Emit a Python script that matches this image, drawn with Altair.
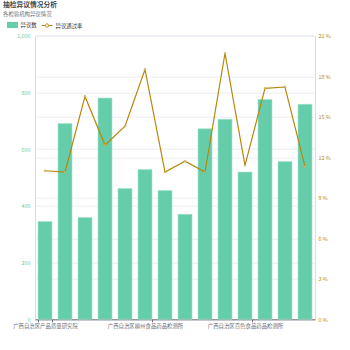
import altair as alt
import pandas as pd

cats = [
    "广西自治区产品质量研究院",
    "广西自治区南宁食品药品检测所",
    "广西自治区桂林食品药品检测所",
    "广西自治区梧州食品药品检测所",
    "广西自治区北海食品药品检测所",
    "广西自治区柳州食品药品检测所",
    "广西自治区防城港食品药品检测所",
    "广西自治区钦州食品药品检测所",
    "广西自治区贵港食品药品检测所",
    "广西自治区玉林食品药品检测所",
    "广西自治区百色食品药品检测所",
    "广西自治区贺州食品药品检测所",
    "广西自治区河池食品药品检测所",
    "广西自治区来宾食品药品检测所",
]
counts = [345, 690, 359, 780, 461, 528, 454, 370, 672, 705, 519, 775, 556, 758]
rates = [11.0, 10.9, 16.5, 12.9, 14.3, 18.5, 10.9, 11.7, 10.9, 19.7, 11.4, 17.1, 17.2, 11.3]
left_ticks = [0, 200, 400, 600, 800, 1000]
right_ticks = [0, 3, 6, 9, 12, 15, 18, 21]
shown_labels = [cats[0], cats[5], cats[10]]

bar_name = "异议数"
line_name = "异议通过率"
FONT = "Noto Sans CJK SC"
GREEN = "#66cdaa"
GOLD = "#b8860b"
GRID = "#eceef6"

df = pd.DataFrame({"cat": cats, "count": counts, "rate": rates,
                   "s1": [bar_name] * len(cats), "s2": [line_name] * len(cats)})

x_enc = alt.X(
    "cat:N", sort=cats, title=None,
    scale=alt.Scale(paddingInner=0.3, paddingOuter=0.15),
    axis=alt.Axis(values=shown_labels, labelAngle=0, tickBand="extent",
                  domainColor="#6e7079", tickColor="#6e7079", tickSize=2.5,
                  labelColor="#6e7079", labelFontSize=5.4, labelPadding=1.5,
                  labelFont=FONT, grid=False, labelOverlap=False, labelLimit=200),
)

bars = alt.Chart(df).mark_bar(stroke="#a3e4cc", strokeWidth=0.6).encode(
    x=x_enc,
    y=alt.Y("count:Q", title=None,
            scale=alt.Scale(domain=[0, 1000], nice=False),
            axis=alt.Axis(orient="left", values=left_ticks, format=",.0f",
                          domain=False, ticks=False, labelColor=GREEN,
                          labelFontSize=5.4, labelFont=FONT, labelPadding=5,
                          grid=True, gridColor=GRID, gridWidth=1)),
    fill=alt.Fill("s1:N", scale=alt.Scale(domain=[bar_name], range=[GREEN]),
                  legend=alt.Legend(title=None, orient="none", legendX=-28, legendY=-16.2,
                                    symbolType="M-1,-0.56H1V0.56H-1Z", symbolSize=121,
                                    symbolStrokeWidth=0, labelOffset=2.5,
                                    labelFontSize=5.4, labelFont=FONT, labelColor="#333333",
                                    padding=0)),
)

line = alt.Chart(df).mark_line(strokeWidth=1.2,
                               point=alt.OverlayMarkDef(filled=True, fill="white", stroke=GOLD,
                                                        strokeWidth=0.6, size=3)).encode(
    x=alt.X("cat:N", sort=cats),
    y=alt.Y("rate:Q", title=None,
            scale=alt.Scale(domain=[0, 21], nice=False),
            axis=alt.Axis(orient="right", values=right_ticks,
                          labelExpr="datum.value + ' %'",
                          domain=False, ticks=False, labelColor=GOLD,
                          labelFontSize=5.4, labelFont=FONT, labelPadding=3,
                          grid=True, gridColor=GRID, gridWidth=1)),
    stroke=alt.Stroke("s2:N", scale=alt.Scale(domain=[line_name], range=[GOLD]),
                      legend=alt.Legend(title=None, orient="none", legendX=6, legendY=-16.2,
                                        symbolType="M-1,0H-0.3M0.3,0H1M0.3,0A0.3,0.3 0 1 1 -0.3,0A0.3,0.3 0 1 1 0.3,0",
                                        symbolSize=121, symbolStrokeWidth=1,
                                        symbolFillColor="white", labelOffset=2.5,
                                        labelFontSize=5.4, labelFont=FONT, labelColor="#333333",
                                        padding=0)),
)

chart = alt.layer(bars, line).resolve_scale(y="independent").properties(
    width=280, height=283.6,
    autosize=alt.AutoSizeParams(type="none"),
    padding={"left": 35, "top": 35.7, "right": 35, "bottom": 30.7},
    title=alt.TitleParams(text="抽检异议情况分析", subtitle="各检验机构异议情况",
                          anchor="start", frame="group", dx=-32, offset=2,
                          font=FONT, fontSize=6.75, fontWeight="bold", color="#464646",
                          subtitleFont=FONT, subtitleFontSize=5.4, subtitleColor="#6e7079",
                          subtitlePadding=3),
).configure_view(stroke=None).configure(background="white")

chart.save("out.html", embed_options={"renderer": "svg", "actions": False})
